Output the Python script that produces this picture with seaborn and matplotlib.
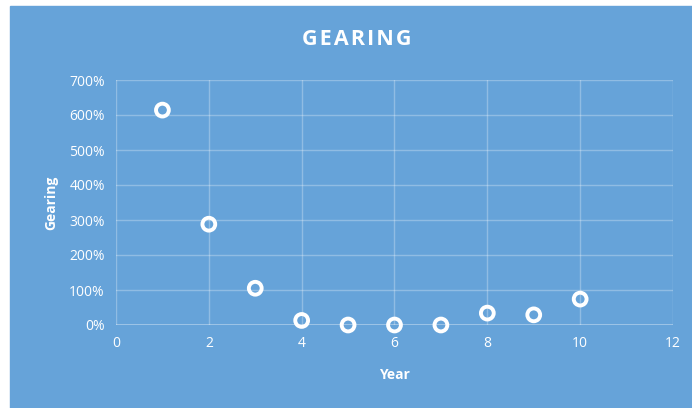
import matplotlib
matplotlib.use("Agg")
import matplotlib.pyplot as plt
import seaborn as sns
import pandas as pd
from matplotlib.ticker import FuncFormatter

# Gearing ratio by year
years = [1, 2, 3, 4, 5, 6, 7, 8, 9, 10]
gearing = [6.14, 2.88, 1.05, 0.13, 0.0, 0.0, 0.0, 0.34, 0.29, 0.74]

df = pd.DataFrame({"Year": years, "Gearing": gearing})

bg = "#66A3D9"
sns.set_theme(style="white")
plt.rcParams["font.family"] = ["Open Sans", "DejaVu Sans"]

fig = plt.figure(figsize=(6.92, 4.08), dpi=100, facecolor="white")
# blue chart panel
fig.patches.append(plt.Rectangle((10 / 692, 0), 1 - 10 / 692, 1 - 6 / 408,
                                 transform=fig.transFigure, color=bg, zorder=-1))
ax = fig.add_axes([116 / 692, 1 - 325 / 408, (673 - 116) / 692, (325 - 80) / 408])
ax.set_facecolor(bg)

sns.scatterplot(data=df, x="Year", y="Gearing", ax=ax, marker="o", s=85,
                facecolor="none", edgecolor="white", linewidth=2.8, zorder=3,
                clip_on=False)

ax.set_xlim(0, 12)
ax.set_ylim(0, 7)
ax.set_xticks(range(0, 13, 2))
ax.set_yticks([i for i in range(0, 8)])
ax.yaxis.set_major_formatter(FuncFormatter(lambda v, p: f"{v * 100:.0f}%"))

ax.grid(True, color="white", alpha=0.28, linewidth=1)
for s in ax.spines.values():
    s.set_visible(False)
ax.axhline(0, color="white", alpha=0.35, linewidth=1.3, zorder=1)

ax.tick_params(axis="both", colors="white", labelsize=10, length=0, pad=8)
ax.set_xlabel("Year", color="white", fontsize=10, fontweight="bold", labelpad=12)
ax.set_ylabel("Gearing", color="white", fontsize=10, fontweight="bold", labelpad=8)

fig.text(0.516, 0.902, "G E A R I N G".replace(" ", "\u200a"), color="white",
         fontsize=15.5, fontweight="bold", ha="center", va="center")

fig.savefig("out.png", dpi=100, facecolor="white")
